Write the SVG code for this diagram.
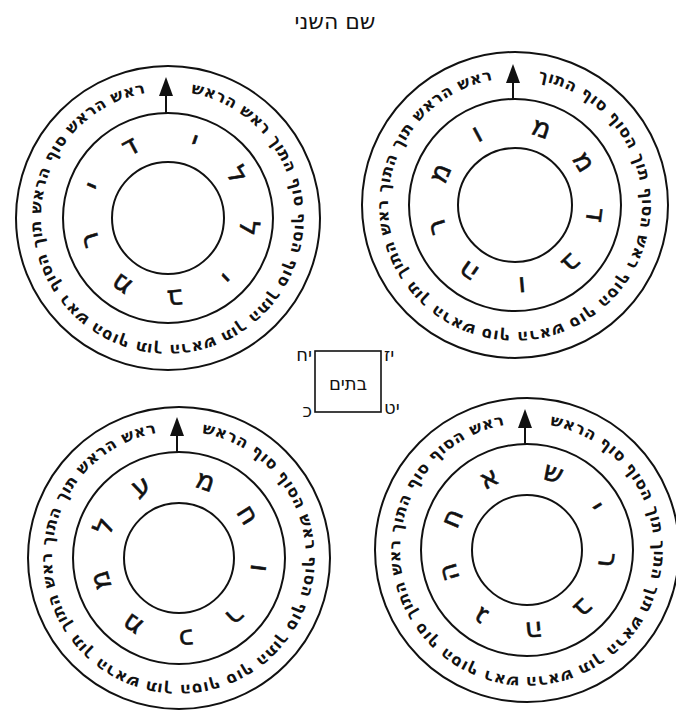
<svg xmlns="http://www.w3.org/2000/svg" width="676" height="711" viewBox="0 0 676 711">
<style>
.c{fill:none;stroke:#111;stroke-width:2}
.ar{fill:#111;stroke:none}
.st{stroke:#111;stroke-width:2}
.rt{font-family:"DejaVu Sans","Liberation Sans",sans-serif;font-weight:bold;font-size:16px;fill:#111}
.lt{font-family:"DejaVu Sans","Liberation Sans",sans-serif;font-size:27px;fill:#111;stroke:#111;stroke-width:0.6;text-anchor:middle;dominant-baseline:central}
.lb{font-family:"DejaVu Sans","Liberation Sans",sans-serif;font-size:18px;fill:#111}
.ti{font-family:"DejaVu Sans","Liberation Sans",sans-serif;font-size:22px;fill:#111;text-anchor:middle}
</style>
<defs>
<path id="p-tl" d="M187.87 92.56 A127 127 0 1 1 148.13 92.56"/>
<path id="p-tr" d="M534.87 79.56 A127 127 0 1 1 495.13 79.56"/>
<path id="p-bl" d="M198.87 432.56 A127 127 0 1 1 159.13 432.56"/>
<path id="p-br" d="M546.87 424.56 A127 127 0 1 1 507.13 424.56"/>
</defs>
<rect width="676" height="711" fill="#fff"/>
<g id="title"><text class="ti" x="335" y="29">שם השני</text></g>

<g id="ring-tl">
<circle class="c" cx="168" cy="218" r="152"/>
<circle class="c" cx="168" cy="218" r="105"/>
<circle class="c" cx="168" cy="218" r="56"/>
<line class="st" x1="166" y1="95" x2="166" y2="113"/>
<polygon class="ar" points="166,77 159,96 173,96"/>
<text class="rt"><textPath href="#p-tl" startOffset="3" textLength="752" lengthAdjust="spacing">ראש הראש סוף הראש תוך הסוף ראש הסוף תוך הראש תוך התוך סוף הסוף סוף התוך ראש הראש</textPath></text>
<g transform="translate(168 218)">
<text class="lt" transform="rotate(19) translate(0 -82)">י</text>
<text class="lt" transform="rotate(58) translate(0 -82)">ל</text>
<text class="lt" transform="rotate(97) translate(0 -82)">ל</text>
<text class="lt" transform="rotate(136) translate(0 -82)">י</text>
<text class="lt" transform="rotate(175) translate(0 -82)">ב</text>
<text class="lt" transform="rotate(215) translate(0 -82)">מ</text>
<text class="lt" transform="rotate(254) translate(0 -82)">ר</text>
<text class="lt" transform="rotate(293) translate(0 -82)">י</text>
<text class="lt" transform="rotate(332) translate(0 -82)">ד</text>
</g>
</g>

<g id="ring-tr">
<circle class="c" cx="515" cy="205" r="153"/>
<circle class="c" cx="515" cy="205" r="106"/>
<circle class="c" cx="515" cy="205" r="57"/>
<line class="st" x1="513" y1="82" x2="513" y2="99"/>
<polygon class="ar" points="513,64 506,83 520,83"/>
<text class="rt"><textPath href="#p-tr" startOffset="3" textLength="752" lengthAdjust="spacing">ראש הראש תוך התוך ראש התוך תוך הראש סוף הראש סוף הסוף ראש הסוף תוך הסוף סוף התוך</textPath></text>
<g transform="translate(515 205)">
<text class="lt" transform="rotate(19) translate(0 -82)">מ</text>
<text class="lt" transform="rotate(58) translate(0 -82)">מ</text>
<text class="lt" transform="rotate(97) translate(0 -82)">ד</text>
<text class="lt" transform="rotate(136) translate(0 -82)">ב</text>
<text class="lt" transform="rotate(175) translate(0 -82)">ו</text>
<text class="lt" transform="rotate(215) translate(0 -82)">ה</text>
<text class="lt" transform="rotate(254) translate(0 -82)">ר</text>
<text class="lt" transform="rotate(293) translate(0 -82)">מ</text>
<text class="lt" transform="rotate(332) translate(0 -82)">ו</text>
</g>
</g>

<g id="ring-bl">
<circle class="c" cx="179" cy="558" r="151"/>
<circle class="c" cx="179" cy="558" r="106"/>
<circle class="c" cx="179" cy="558" r="55"/>
<line class="st" x1="177" y1="435" x2="177" y2="452"/>
<polygon class="ar" points="177,417 170,436 184,436"/>
<text class="rt"><textPath href="#p-bl" startOffset="3" textLength="752" lengthAdjust="spacing">ראש הראש תוך התוך ראש התוך תוך הראש תוך הסוף סוף התוך סוף הסוף ראש הסוף סוף הראש</textPath></text>
<g transform="translate(179 558)">
<text class="lt" transform="rotate(19) translate(0 -82)">מ</text>
<text class="lt" transform="rotate(58) translate(0 -82)">ח</text>
<text class="lt" transform="rotate(97) translate(0 -82)">ו</text>
<text class="lt" transform="rotate(136) translate(0 -82)">ר</text>
<text class="lt" transform="rotate(175) translate(0 -82)">כ</text>
<text class="lt" transform="rotate(215) translate(0 -82)">מ</text>
<text class="lt" transform="rotate(254) translate(0 -82)">מ</text>
<text class="lt" transform="rotate(293) translate(0 -82)">ל</text>
<text class="lt" transform="rotate(332) translate(0 -82)">ע</text>
</g>
</g>

<g id="ring-br">
<circle class="c" cx="527" cy="550" r="152"/>
<circle class="c" cx="527" cy="550" r="106"/>
<circle class="c" cx="527" cy="550" r="55"/>
<line class="st" x1="525" y1="427" x2="525" y2="444"/>
<polygon class="ar" points="525,409 518,428 532,428"/>
<text class="rt"><textPath href="#p-br" startOffset="3" textLength="752" lengthAdjust="spacing">ראש הסוף סוף התוך ראש התוך סוף הסוף ראש הראש תוך הראש תוך התוך תוך הסוף סוף הראש</textPath></text>
<g transform="translate(527 550)">
<text class="lt" transform="rotate(19) translate(0 -82)">ש</text>
<text class="lt" transform="rotate(58) translate(0 -82)">י</text>
<text class="lt" transform="rotate(97) translate(0 -82)">ר</text>
<text class="lt" transform="rotate(136) translate(0 -82)">ב</text>
<text class="lt" transform="rotate(175) translate(0 -82)">ה</text>
<text class="lt" transform="rotate(215) translate(0 -82)">ג</text>
<text class="lt" transform="rotate(254) translate(0 -82)">ה</text>
<text class="lt" transform="rotate(293) translate(0 -82)">ח</text>
<text class="lt" transform="rotate(332) translate(0 -82)">א</text>
</g>
</g>

<g id="batim">
<rect x="315" y="351" width="66" height="61" fill="none" stroke="#111" stroke-width="1.6"/>
<text class="lb" x="348" y="390" text-anchor="middle" font-size="22">בתים</text>
<text class="lb" x="312" y="361" text-anchor="end">יח</text>
<text class="lb" x="384" y="361" text-anchor="start">יז</text>
<text class="lb" x="312" y="417" text-anchor="end">כ</text>
<text class="lb" x="384" y="414" text-anchor="start">יט</text>
</g>
</svg>
